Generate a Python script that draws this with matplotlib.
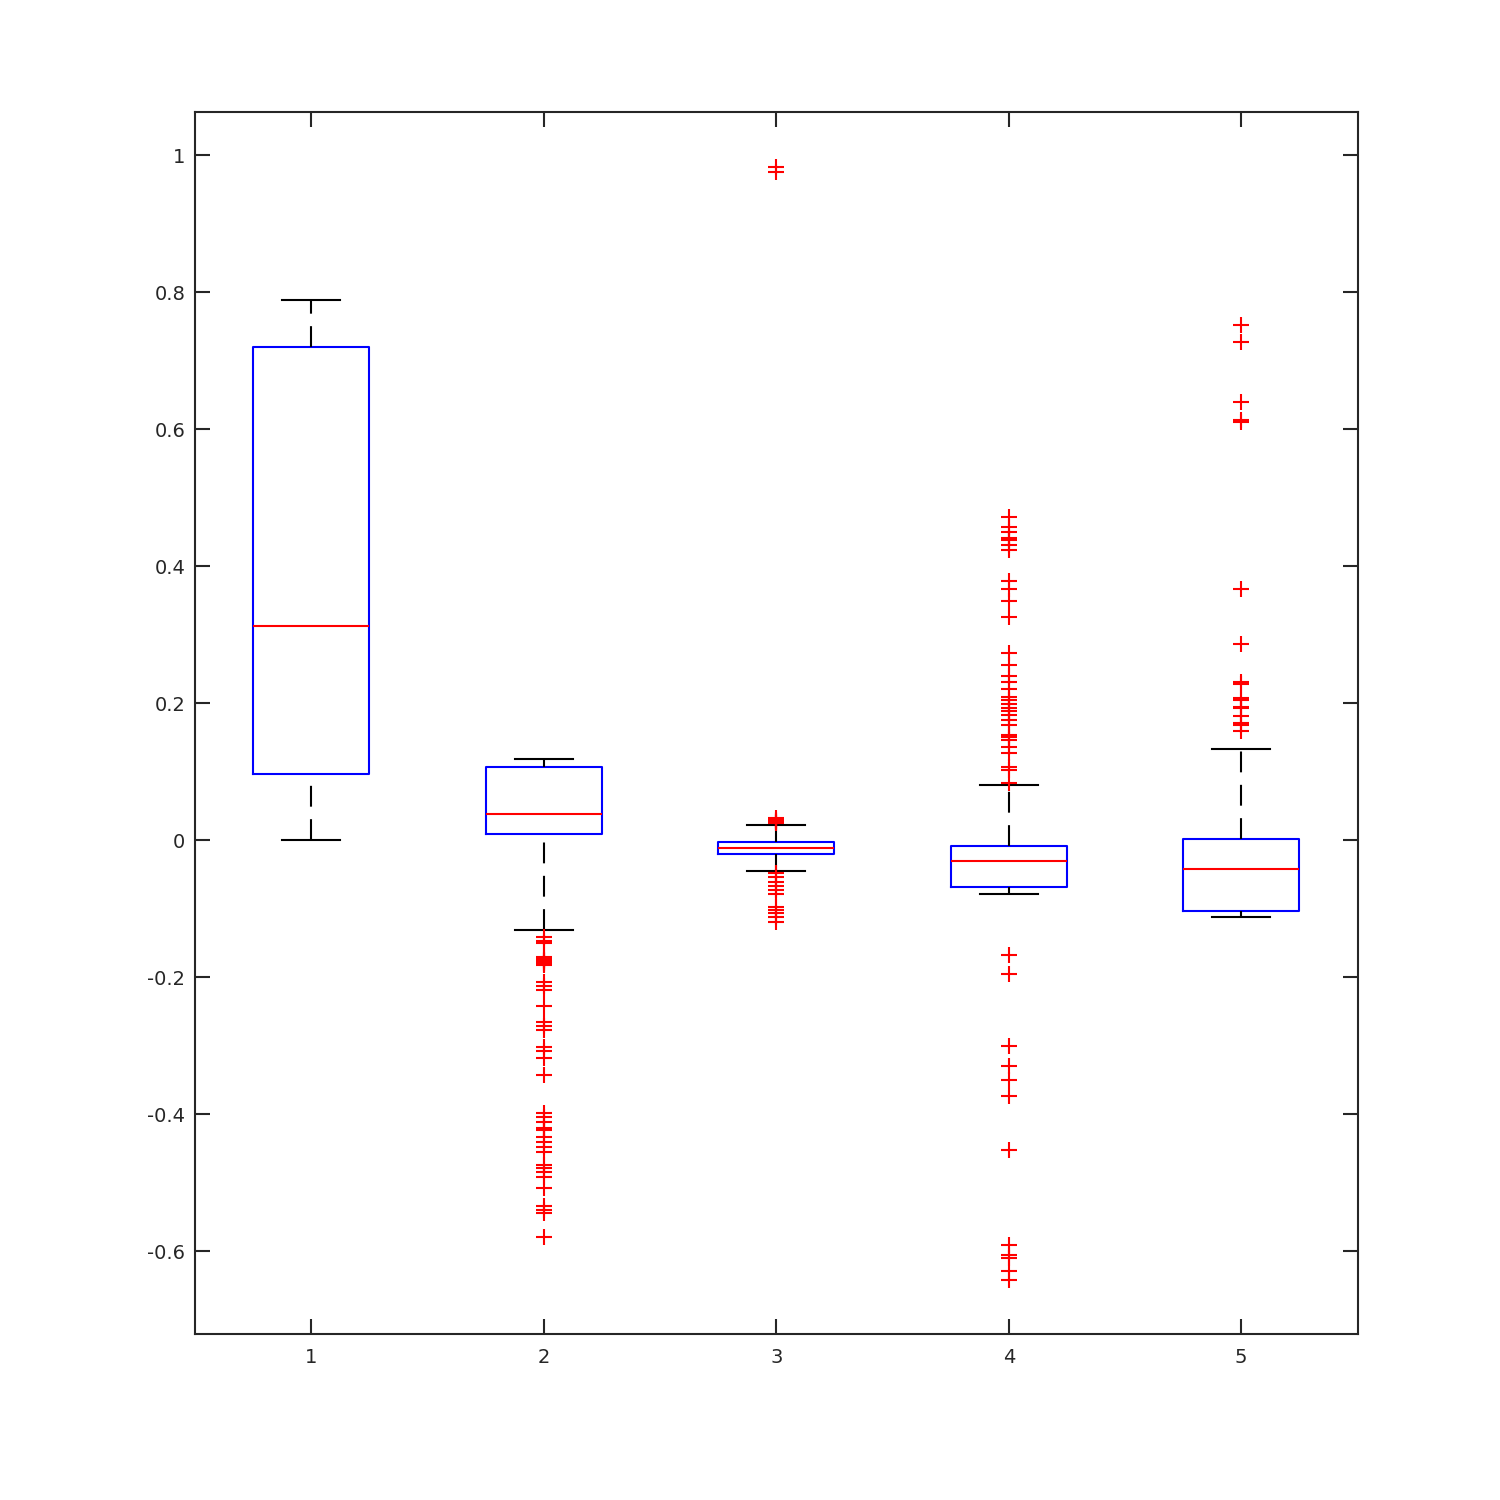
import numpy as np
import matplotlib
matplotlib.use('Agg')
from matplotlib import pyplot as plt
from matplotlib.ticker import FuncFormatter

plt.rcParams['axes.unicode_minus'] = False

# 箱线图统计量
positions = [1, 2, 3, 4, 5]
medians = [0.312, 0.038, -0.012, -0.031, -0.042]
q1 = [0.096, 0.009, -0.020, -0.069, -0.104]
q3 = [0.720, 0.107, -0.003, -0.009, 0.001]
whislo = [0.0, -0.131, -0.045, -0.079, -0.112]
whishi = [0.788, 0.118, 0.022, 0.080, 0.133]

# 异常值
fliers1 = []
fliers2 = [-0.142, -0.147, -0.150, -0.171, -0.173, -0.175, -0.177, -0.179, -0.181,
           -0.182, -0.207, -0.213, -0.219, -0.242, -0.266, -0.272, -0.277, -0.302,
           -0.308, -0.318, -0.343, -0.399, -0.404, -0.412, -0.420, -0.422, -0.423,
           -0.434, -0.441, -0.448, -0.455, -0.474, -0.479, -0.485, -0.492, -0.508,
           -0.534, -0.540, -0.545, -0.580]
fliers3 = [0.983, 0.975, 0.033, 0.030, 0.028, 0.027, 0.025,
           -0.048, -0.054, -0.061, -0.067, -0.073, -0.079,
           -0.098, -0.102, -0.107, -0.112, -0.120]
fliers4 = [0.472, 0.457, 0.450, 0.441, 0.438, 0.431, 0.423, 0.378, 0.366, 0.349,
           0.326, 0.273, 0.255, 0.239, 0.231, 0.220, 0.209, 0.204, 0.199, 0.193,
           0.188, 0.182, 0.175, 0.168, 0.153, 0.150, 0.146, 0.136, 0.127, 0.107,
           0.102, 0.083, -0.168, -0.196, -0.301, -0.330, -0.350, -0.374, -0.453,
           -0.591, -0.606, -0.610, -0.629, -0.642]
fliers5 = [0.752, 0.727, 0.639, 0.613, 0.610, 0.366, 0.286, 0.231, 0.228, 0.207,
           0.204, 0.194, 0.193, 0.181, 0.171, 0.168, 0.159]
fliers = [fliers1, fliers2, fliers3, fliers4, fliers5]

stats = []
for i in range(len(positions)):
    stats.append(dict(med=medians[i], q1=q1[i], q3=q3[i],
                      whislo=whislo[i], whishi=whishi[i],
                      fliers=fliers[i]))

fig = plt.figure(figsize=(15, 15), dpi=100)
ax = fig.add_axes([0.13, 0.1107, 0.775, 0.8146])

bp = ax.bxp(stats, positions=positions, widths=0.5, showfliers=True,
            boxprops=dict(color='#0000ff', linewidth=1.5),
            medianprops=dict(color='#ff0000', linewidth=1.5),
            whiskerprops=dict(color='black', linewidth=1.5, linestyle=(0, (10, 6))),
            capprops=dict(color='black', linewidth=1.5),
            capwidths=0.25,
            flierprops=dict(marker='+', markeredgecolor='#ff0000', markersize=11,
                            markeredgewidth=1.5, linestyle='none'))

# 下须线从末端往上画，让虚线的起点和MATLAB一致
for w in bp['whiskers'][0::2]:
    xd, yd = w.get_data()
    w.set_data(xd[::-1], yd[::-1])

ax.set_xlim(0.5, 5.5)
ax.set_ylim(-0.721, 1.063)
ax.set_xticks(positions)
ax.set_xticklabels([str(p) for p in positions])
ax.set_yticks(np.round(np.arange(-0.6, 1.01, 0.2), 1))
ax.yaxis.set_major_formatter(FuncFormatter(lambda v, p: ('%g' % round(v, 1))))

for s in ax.spines.values():
    s.set_color('#262626')
    s.set_linewidth(1.5)
ax.tick_params(direction='in', length=11, width=1.5, color='#262626',
               labelsize=14, labelcolor='#262626', top=True, right=True, pad=7)
ax.tick_params(axis='x', pad=10)

fig.savefig('out.png', dpi=100)
